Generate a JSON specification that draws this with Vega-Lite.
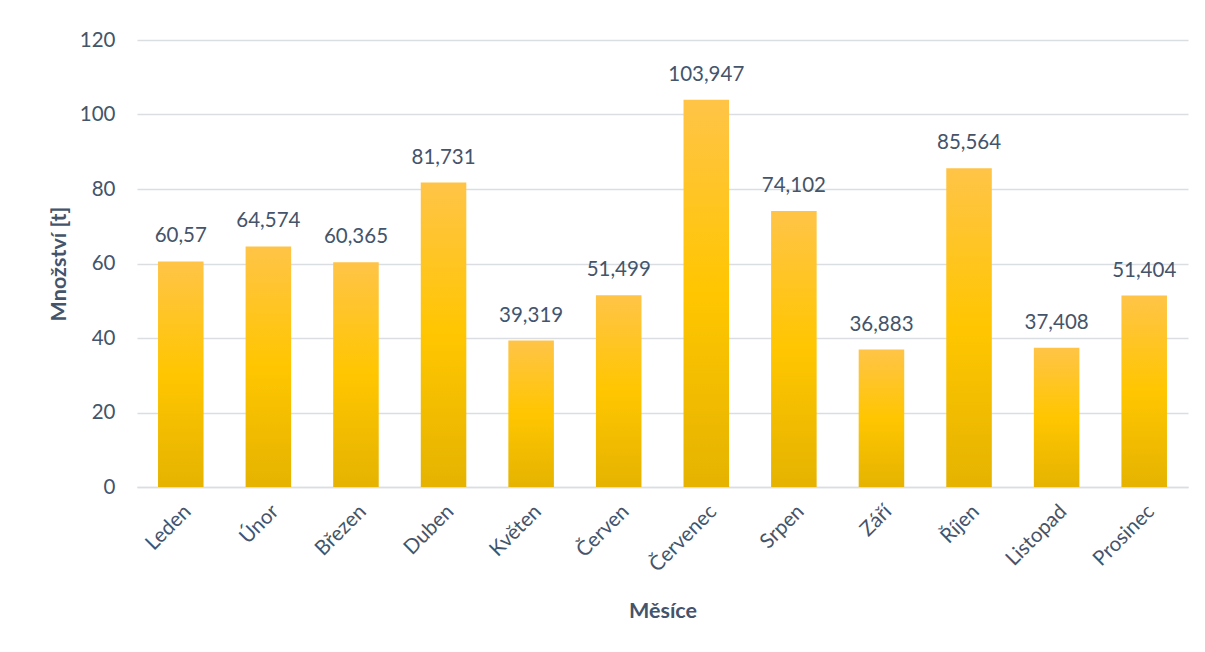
{
  "$schema": "https://vega.github.io/schema/vega-lite/v6.json",
  "autosize": "none",
  "width": 1051,
  "height": 447,
  "padding": {"left": 137, "top": 40, "right": 17, "bottom": 165},
  "background": "white",
  "config": {
    "view": {"stroke": null},
    "font": "Lato",
    "locale": {"number": {"decimal": ",", "thousands": " ", "grouping": [3], "currency": ["", " Kč"]}}
  },
  "data": {
    "values": [
      {"mesic": "Leden", "mnozstvi": 60.57},
      {"mesic": "Únor", "mnozstvi": 64.574},
      {"mesic": "Březen", "mnozstvi": 60.365},
      {"mesic": "Duben", "mnozstvi": 81.731},
      {"mesic": "Květen", "mnozstvi": 39.319},
      {"mesic": "Červen", "mnozstvi": 51.499},
      {"mesic": "Červenec", "mnozstvi": 103.947},
      {"mesic": "Srpen", "mnozstvi": 74.102},
      {"mesic": "Září", "mnozstvi": 36.883},
      {"mesic": "Říjen", "mnozstvi": 85.564},
      {"mesic": "Listopad", "mnozstvi": 37.408},
      {"mesic": "Prosinec", "mnozstvi": 51.404}
    ]
  },
  "encoding": {
    "x": {
      "field": "mesic",
      "type": "nominal",
      "sort": null,
      "scale": {"paddingInner": 0.48, "paddingOuter": 0.24},
      "axis": {
        "title": "Měsíce",
        "titleFont": "Lato",
        "titleFontSize": 21.5,
        "titleFontWeight": "bold",
        "titleColor": "#44546A",
        "titlePadding": 25,
        "labelFont": "Lato",
        "labelFontSize": 20.5,
        "labelColor": "#44546A",
        "labelAngle": -45,
        "labelPadding": 14,
        "ticks": false,
        "domainColor": "#DADDE2",
        "domainWidth": 1.5
      }
    },
    "y": {
      "field": "mnozstvi",
      "type": "quantitative",
      "scale": {"domain": [0, 120]},
      "axis": {
        "title": "Množství [t]",
        "titleFont": "Lato",
        "titleFontSize": 21.5,
        "titleFontWeight": "bold",
        "titleColor": "#44546A",
        "titlePadding": 9,
        "labelFont": "Lato",
        "labelFontSize": 20.5,
        "labelColor": "#44546A",
        "labelPadding": 22,
        "values": [0, 20, 40, 60, 80, 100, 120],
        "ticks": false,
        "domain": false,
        "gridColor": "#DADDE2",
        "gridWidth": 1.5
      }
    }
  },
  "layer": [
    {
      "mark": {
        "type": "bar",
        "color": {
          "gradient": "linear",
          "x1": 0, "y1": 0, "x2": 0, "y2": 1,
          "stops": [
            {"offset": 0, "color": "#FFC447"},
            {"offset": 0.5, "color": "#FFC600"},
            {"offset": 1, "color": "#E5B300"}
          ]
        }
      }
    },
    {
      "mark": {"type": "text", "baseline": "bottom", "dy": -15, "font": "Lato", "fontSize": 20.5, "color": "#44546A"},
      "encoding": {
        "text": {"field": "mnozstvi", "type": "quantitative", "format": ".3~f"}
      }
    }
  ]
}
